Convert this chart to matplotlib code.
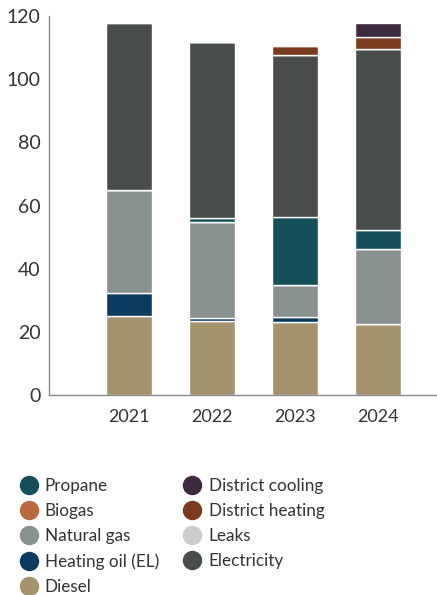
import numpy as np
import matplotlib
matplotlib.use("Agg")
import matplotlib.pyplot as plt
from matplotlib.lines import Line2D

plt.rcParams['font.family'] = ['Lato', 'DejaVu Sans']

years = ['2021', '2022', '2023', '2024']

# stacking order, bottom to top
diesel = [25.0, 23.6, 23.2, 22.5]
heating_oil = [7.3, 0.8, 1.5, 0.0]
natural_gas = [32.6, 30.4, 10.0, 23.6]
biogas = [0.0, 0.0, 0.0, 0.0]
propane = [0.0, 1.4, 21.8, 6.3]
electricity = [53.0, 55.7, 51.2, 57.3]
leaks = [0.3, 0.0, 0.0, 0.0]
district_heating = [0.0, 0.0, 2.7, 3.6]
district_cooling = [0.0, 0.0, 0.0, 4.6]

series = [
    ('Diesel', diesel, '#a4936c'),
    ('Heating oil (EL)', heating_oil, '#0b3b5e'),
    ('Natural gas', natural_gas, '#899090'),
    ('Biogas', biogas, '#b96a3c'),
    ('Propane', propane, '#164f5c'),
    ('Electricity', electricity, '#484d4c'),
    ('Leaks', leaks, '#cccccc'),
    ('District heating', district_heating, '#7a3a1f'),
    ('District cooling', district_cooling, '#3d2a3f'),
]

legend_order = ['Propane', 'Biogas', 'Natural gas', 'Heating oil (EL)', 'Diesel',
                'District cooling', 'District heating', 'Leaks', 'Electricity']

fig = plt.figure(figsize=(4.37, 5.95), dpi=100)
ax = fig.add_axes([0.112, 0.336, 0.888, 0.637])

x = np.arange(len(years))
bottom = np.zeros(len(years))
colors = {}
for name, vals, col in series:
    vals = np.array(vals)
    colors[name] = col
    ax.bar(x, vals, 0.555, bottom=bottom, color=col, edgecolor='white',
           linewidth=1.0, zorder=2)
    bottom += vals

ax.set_ylim(0, 120)
ax.set_xlim(-0.96, 3.71)
ax.set_yticks([0, 20, 40, 60, 80, 100, 120])
ax.set_xticks(x)
ax.set_xticklabels(years)
ax.tick_params(axis='both', length=0, labelsize=13, colors='#333333')
ax.tick_params(axis='y', labelsize=14, pad=6)
ax.tick_params(axis='x', pad=10)
for s in ['top', 'right']:
    ax.spines[s].set_visible(False)
for s in ['left', 'bottom']:
    ax.spines[s].set_color('#8c8c8c')
    ax.spines[s].set_linewidth(1.0)

handles = [Line2D([], [], marker='o', linestyle='none', markersize=14,
                  markerfacecolor=colors[n], markeredgecolor='none')
           for n in legend_order]
fig.legend(handles, legend_order, ncol=2, loc='upper left',
           bbox_to_anchor=(0.046, 0.197), frameon=False, fontsize=12.3,
           labelspacing=0.54, handlelength=1.0, handletextpad=0.45,
           columnspacing=1.45, borderpad=0, borderaxespad=0,
           labelcolor='#333333')

fig.savefig('out.png', dpi=100)
